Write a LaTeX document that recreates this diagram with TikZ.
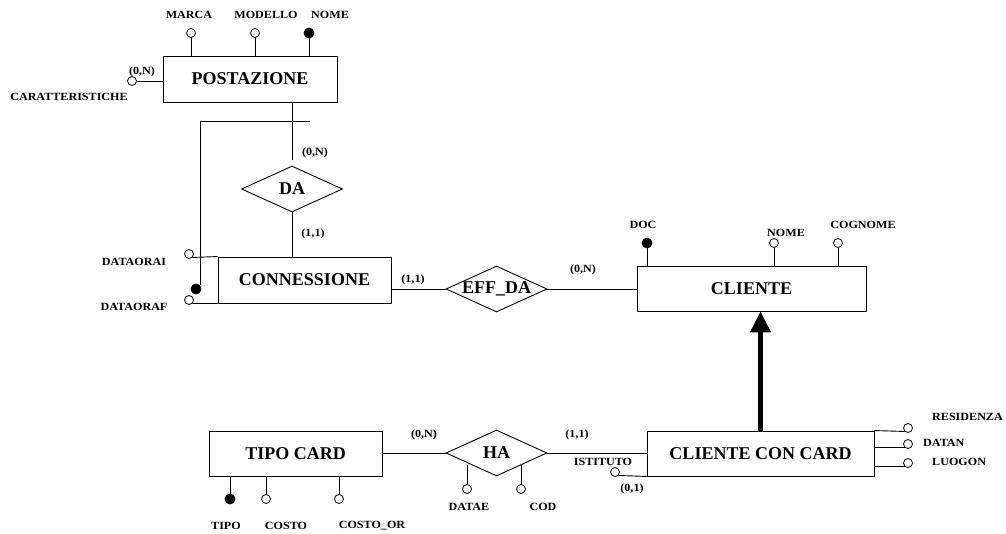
\documentclass[tikz,border=0pt]{standalone}
\usepackage{fontspec}
\setmainfont{Liberation Serif}
\newfontfamily\etichfont[FakeStretch=1.1]{Liberation Serif}
\usepackage{tikz}
\usetikzlibrary{positioning,shapes.geometric,arrows.meta}
\tikzset{
	entita/.style={draw, line width=0.9pt, rectangle, inner sep=0, font=\bfseries\fontsize{18}{20}\selectfont},
	relaz/.style={draw, line width=0.9pt, diamond, inner sep=0, minimum width=101pt, minimum height=46pt, font=\bfseries\fontsize{18}{20}\selectfont},
	attr/.style={draw, circle, fill=white, inner sep=0, minimum size=9pt, line width=0.8pt},
	attrid/.style={attr, fill=black, minimum size=10pt},
	etich/.style={inner sep=0, font=\etichfont\bfseries\fontsize{11}{12}\selectfont},
	linea/.style={line width=0.9pt},
	isa/.style={line width=4.5pt, -{Triangle[width=20pt,length=21pt]}}
}
\begin{document}
\begin{tikzpicture}[x=1pt, y=-1pt]
	\useasboundingbox (0,0) rectangle (1006,534);
	% entita e relazioni
	\node[entita, minimum width=174pt, minimum height=46pt] (post) at (250,79) {POSTAZIONE};
	\node[entita, minimum width=173pt, minimum height=46pt] (conn) at (304.5,280) {CONNESSIONE};
	\node[entita, minimum width=229pt, minimum height=45pt] (cli) at (751.5,288.5) {CLIENTE};
	\node[entita, minimum width=173pt, minimum height=45pt] (tcard) at (295.5,453.5) {TIPO CARD};
	\node[entita, minimum width=227pt, minimum height=45pt] (ccard) at (760.5,453.5) {CLIENTE CON CARD};
	\node[relaz] (da) at (292,189) {\makebox[0pt]{DA}};
	\node[relaz] (effda) at (496.5,289) {\makebox[0pt]{EFF\_DA}};
	\node[relaz] (ha) at (496.5,453) {\makebox[0pt]{HA}};

	\draw[linea, shorten >=6pt] (da.north |- post.south) -- (da.north);
	\draw[linea] (da.south) -- (da.south |- conn.north);
	\draw[linea] (conn.east |- effda.west) -- (effda.west);
	\draw[linea] (effda.east) -- (cli.west |- effda.east);
	\draw[linea] (tcard.east |- ha.west) -- (ha.west);
	\draw[linea] (ha.east) -- (ccard.west |- ha.east);
	\draw[isa] (ccard.north) -- (ccard.north |- cli.south);

	% cardinalita
	\node[etich] (c1) at (142,72) {(0,N)};
	\node[etich] (c2) at (315,153) {(0,N)};
	\node[etich] (c3) at (313,234) {(1,1)};
	\node[etich] (c4) at (413,280) {(1,1)};
	\node[etich] (c5) at (583,270) {(0,N)};
	\node[etich] (c6) at (424,435) {(0,N)};
	\node[etich] (c7) at (577,435) {(1,1)};
	\node[etich] (c8) at (632,489) {(0,1)};

	% attributi POSTAZIONE
	\node[attr] (marca) at (191,33) {};
	\node[attr] (modello) at (255,33) {};
	\node[attrid] (nomep) at (309,33) {};
	\node[attr] (caratt) at (132,81) {};
	\draw[linea] (marca) -- (marca |- post.north);
	\draw[linea] (modello) -- (modello |- post.north);
	\draw[linea] (nomep) -- (nomep |- post.north);
	\draw[linea] (caratt.east) -- (caratt.east -| post.west);
	\node[etich] (lmarca) at (189,15) {MARCA};
	\node[etich] (lmodello) at (266,15) {MODELLO};
	\node[etich] (lnomep) at (330,15) {NOME};
	\node[etich] (lcaratt) at (69,97) {CARATTERISTICHE};

	% attributi CONNESSIONE e identificatore esterno
	\node[attr] (dataorai) at (189,254) {};
	\node[attr] (dataoraf) at (189,300) {};
	\node[attrid] (idconn) at (196,289) {};
	\coordinate (idtop) at (200,121);
	\coordinate (idend) at (310,121);
	\draw[linea] (dataorai.south east) -- (conn.north west);
	\draw[linea] (dataoraf.south east) -- (conn.south west);
	\draw[linea] (idend) -- (idtop) -- (idtop |- idconn.north east);
	\node[etich] (ldataorai) at (134,262) {DATAORAI};
	\node[etich] (ldataoraf) at (134,307) {DATAORAF};

	% attributi CLIENTE
	\node[attrid] (doc) at (647,243) {};
	\node[attr] (nomec) at (774,243) {};
	\node[attr] (cognome) at (838,243) {};
	\draw[linea] (doc) -- (doc |- cli.north);
	\draw[linea] (nomec) -- (nomec |- cli.north);
	\draw[linea] (cognome) -- (cognome |- cli.north);
	\node[etich] (ldoc) at (643,225) {DOC};
	\node[etich] (lnomec) at (786,233) {NOME};
	\node[etich] (lcognome) at (863,225) {COGNOME};

	% attributi CLIENTE CON CARD
	\node[attr] (resid) at (908,428) {};
	\node[attr] (datan) at (908,444) {};
	\node[attr] (luogon) at (908,463) {};
	\node[attr] (istituto) at (615,472) {};
	\draw[linea] (ccard.north east) -- (resid.south west);
	\draw[linea] (datan.south west) -- (datan.south west -| ccard.east);
	\draw[linea] (luogon.south west) -- (luogon.south west -| ccard.east);
	\draw[linea] (istituto.south east) -- (ccard.south west);
	\node[etich, anchor=west] (lresid) at (932,417) {RESIDENZA};
	\node[etich, anchor=west] (ldatan) at (923,443) {DATAN};
	\node[etich, anchor=west] (lluogon) at (932,462) {LUOGON};
	\node[etich] (listituto) at (603,462) {ISTITUTO};

	% attributi TIPO CARD e HA
	\node[attrid] (tipo) at (230,499) {};
	\node[attr] (costo) at (266,499) {};
	\node[attr] (costoor) at (339,499) {};
	\node[attr] (datae) at (467,489) {};
	\node[attr] (cod) at (521,489) {};
	\draw[linea] (tipo) -- (tipo |- tcard.south);
	\draw[linea] (costo) -- (costo |- tcard.south);
	\draw[linea] (costoor) -- (costoor |- tcard.south);
	\draw[linea] (datae) -- (datae |- ha.south west);
	\draw[linea] (cod) -- (cod |- ha.south east);
	\node[etich] (ltipo) at (226,526) {TIPO};
	\node[etich] (lcosto) at (286,526) {COSTO};
	\node[etich] (lcostoor) at (372,526) {COSTO\_OR};
	\node[etich] (ldatae) at (469,507) {DATAE};
	\node[etich] (lcod) at (543,507) {COD};
\end{tikzpicture}
\end{document}
